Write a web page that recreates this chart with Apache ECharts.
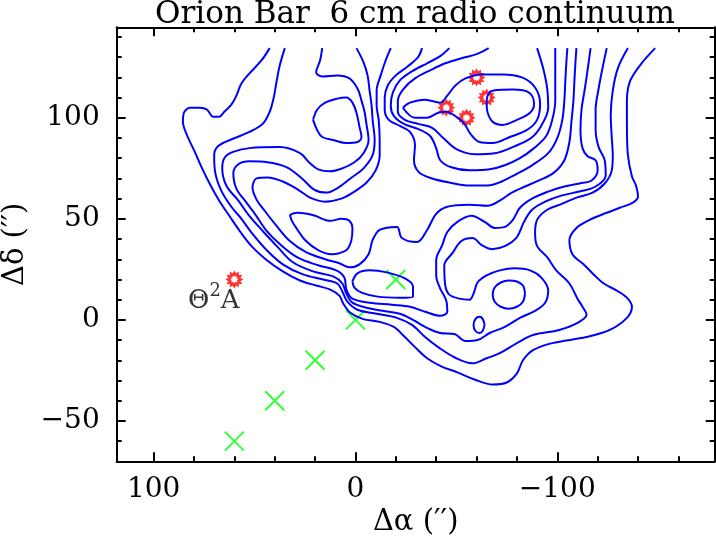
<!DOCTYPE html>
<html><head><meta charset="utf-8">
<script src="https://cdn.jsdelivr.net/npm/echarts@6/dist/echarts.min.js"></script>
<style>html,body{margin:0;padding:0;background:#fff}#c{width:716px;height:538px}</style>
</head><body><div id="c"></div>
<script>
// ---------- axis extents and tick values ----------
const X_MIN = -178, X_MAX = 118.3;
const Y_MIN = -70, Y_MAX = 144.8;
const xMajorTicks = [100, 0, -100];
const xMinorTicks = [-160, -140, -120, -80, -60, -40, -20, 20, 40, 60, 80];
const yMajorTicks = [-50, 0, 50, 100];
const yMinorTicks = [-60, -40, -30, -20, -10, 10, 20, 30, 40, 60, 70, 80, 90, 110, 120, 130, 140];

// ---------- contour lines (Δα, Δδ in arcsec) ----------
const contourC1 = [[42.5,134.5],[46.5,128.5],[52.5,122],[56.5,117],[59,111],[61.5,106.5],[65,103],[67.5,100.5],[70.5,100.5],[73.5,104],[77,105],[82,105],[85,102.5],[85.5,98],[83.5,91.5],[80,84],[76,75],[71.5,66],[67.5,59],[62.5,51.5],[57,43.5],[51.5,36.5],[44.5,30],[36,24],[27.5,19.5],[19.5,17],[12.5,15],[8,12],[6,8],[2.5,3.5],[-3.5,0.5],[-12,-1],[-19,-3.5],[-24.5,-8.5],[-29.5,-13.5],[-35.5,-19],[-42.5,-23],[-50.5,-26],[-59,-29.5],[-68,-32],[-75,-31],[-80,-26.5],[-83,-20],[-88,-15],[-97.5,-11.5],[-114.5,-8.5],[-126,-5],[-134.5,1],[-137,6.5],[-134.5,11],[-129.5,14.5],[-123,18],[-118,22.5],[-113,27.5],[-107.5,32.5],[-106,39.5],[-109.5,45.5],[-116,49.5],[-124.5,53],[-131,55.5],[-137.5,58],[-140,61],[-139,66.5],[-137,71],[-135,81.5],[-134.5,96.5],[-134.5,108.5],[-136,118],[-141,126],[-148.5,134.5]];
const contourC2 = [[35,134.5],[37.5,126],[39,118.5],[40.5,110],[42.5,103],[46,97],[52.5,93],[61,89.5],[68,86],[70,81.5],[69.5,73],[66.5,64],[61.5,56],[56.5,50],[51,42.5],[44,34.5],[36,27.5],[26,22.5],[16,20],[9,18],[6.5,14],[4,9],[-1,5],[-10.5,3],[-20.5,1],[-28,-2.5],[-34.5,-8.5],[-41,-13.5],[-49,-18.5],[-58,-21.5],[-65,-19],[-71.5,-16.5],[-80,-11.5],[-88,-7.5],[-101,-5],[-110,-1.5],[-114.5,2.5],[-112.5,6.5],[-110,10.5],[-106,18],[-99.5,24.5],[-95,31],[-90,36.5],[-89,43],[-90,49.5],[-95,54.5],[-102.5,57.5],[-109.5,60.5],[-117.5,63],[-123.5,67.5],[-127,74],[-127.5,81.5],[-127,90],[-126.5,101.5],[-127.5,113.5],[-130,124.5],[-135,134.5]];
const contourC3 = [[16.5,134.5],[17.5,128.5],[19.5,122.5],[16.5,120.5],[9,121],[3,119.5],[-1,114.5],[-3,108.5],[-4.5,103],[-5.5,96.5],[-6.5,89],[-4,82.5],[0.5,78],[6.5,75],[12.5,73.5],[18.5,74.5],[22.5,77.5],[27.5,82.5],[37.5,85.5],[52.5,85],[61,83],[65,80],[66,75],[64,66.5],[58,59],[53,52],[45.5,43.5],[38.5,36],[31,28.5],[21,24],[11,21.5],[6.5,18],[4.5,13],[1.5,8.5],[-5.5,6],[-13.5,4.5],[-22,3],[-28.5,0],[-34.5,-3.5],[-42,-6.5],[-49,-7],[-54.5,-10.5],[-60.5,-10],[-66.5,-6.5],[-74,-3.5],[-81.5,1],[-89,4.5],[-94,8.5],[-95.5,14.5],[-92,21],[-86.5,24.5],[-79,25.5],[-71.5,24.5],[-65,22],[-60.5,18.5],[-58.5,13],[-56.5,10],[-51.5,10.5],[-46.5,12.5],[-44.5,17],[-44,27],[-48,33],[-52.5,39],[-58,40.5],[-62.5,37],[-67.5,35],[-74,36.5],[-80,41],[-83.5,48.5],[-87.5,54.5],[-94,58.5],[-102,61.5],[-111,63.5],[-119,66],[-124,71.5],[-123.5,79],[-120.5,85.5],[-119,94],[-119,104],[-120.5,114.5],[-122.5,125],[-124.5,134.5]];
const contourC4 = [[-0.5,134.5],[-4,127.5],[-6,121],[-7,113.5],[-8,106],[-8.5,99],[-9.5,89],[-8.5,81.5],[-4,75],[2.5,70],[8.5,65.5],[14.5,63],[20.5,64.5],[26.5,70],[34,75.5],[43.5,78],[52.5,78.5],[58,77],[60.5,72.5],[59,65],[54,58],[49.5,52],[44,44],[37.5,37.5],[29,31],[18.5,27],[9.5,24.5],[5.5,21],[4.5,15],[1.5,10.5],[-7,8.5],[-18,7.5],[-27,6.5],[-34.5,4],[-42,2],[-45.5,4],[-45,9.5],[-42,15.5],[-40,22],[-40,29.5],[-43,37],[-45.5,43.5],[-50.5,48.5],[-57.5,51.5],[-64,48.5],[-69,45.5],[-74,46],[-78,49.5],[-81.5,55.5],[-87.5,60],[-95.5,63.5],[-103.5,66],[-111,67.5],[-117,69],[-120,74],[-119,79],[-115,81],[-112.5,85],[-111.5,94],[-112,104],[-113.5,113.5],[-115,123.5],[-116.5,134.5]];
const contourC5 = [[-17.5,134.5],[-15,128.5],[-12.5,121],[-10.5,113.5],[-10.5,106],[-11.5,99],[-12,89],[-12,81.5],[-10,74],[-5.5,68],[0.5,63.5],[7,60],[15,58.5],[22.5,60.5],[28.5,64.5],[36,68.5],[43.5,70.5],[49,70],[51,65.5],[49,59.5],[45,54],[39.5,47],[32.5,39],[24.5,33.5],[15,30],[8,28],[3,26],[-2,27.5],[-6.5,32.5],[-8.5,39.5],[-12,44.5],[-20.5,46],[-23,40.5],[-30.5,38.5],[-35.5,44.5],[-40,52.5],[-45.5,56],[-56.5,57],[-65.5,56.5],[-71.5,59],[-77.5,63],[-84,66],[-91,69],[-98.5,73],[-103.5,79],[-106,88],[-107,98],[-108,108.5],[-108.5,118.5],[-109,127.5],[-109.5,134.5]];
const contourS1 = [[-33,134.5],[-31,130],[-26,125.5],[-20,121],[-16,116],[-14.5,110],[-14.5,104],[-16.5,99],[-22,96],[-27,93],[-29.5,86.5],[-29,79],[-31.5,73],[-38,70],[-46.5,68],[-56.5,66.5],[-65.5,66.5],[-72.5,68.5],[-79.5,72],[-87.5,76.5],[-95.5,82.5],[-100,90],[-102.5,99],[-103.5,108.5],[-104,118.5],[-104.5,127.5],[-105,134.5]];
const contourS2 = [[-46.5,134.5],[-42,130.5],[-35.5,127],[-28,123],[-22,118.5],[-18.5,112.5],[-17.5,106],[-19,101],[-24,97],[-31,94.5],[-37,91],[-40,85],[-42,79],[-47.5,75.5],[-56.5,74],[-66.5,74.5],[-74,76.5],[-81.5,80],[-88.5,85],[-94.5,91],[-97.5,99],[-99,108.5],[-99,118.5],[-99,127.5],[-99,134.5]];
const contourS3 = [[-66,134.5],[-60,131.5],[-52.5,129.5],[-44.5,127],[-37,123.5],[-29.5,119.5],[-24,114.5],[-21,108.5],[-21,103],[-24.5,99],[-31,97],[-38,95],[-43.5,90],[-50,84.5],[-59,82],[-69,82.5],[-79,86],[-87,90],[-92,96],[-95.5,105],[-95,114.5],[-93,124.5],[-90,134.5]];
const loopFinger = [[-23.5,105],[-27,107.5],[-34.5,109],[-42,107.5],[-45.5,111],[-49.5,116],[-54.5,119.5],[-62.5,121.5],[-73,121.5],[-82.5,120],[-89,115],[-91.5,107],[-90,99],[-85,94],[-76.5,90.5],[-68,87.5],[-61.5,88],[-57,92],[-54,97],[-50,100.5],[-45,103],[-41,102.5],[-35.5,100],[-29.5,100],[-23.5,105]];
const loopStars = [[-65,107],[-65.5,111],[-68.5,113.5],[-78,114],[-86,112.5],[-88.5,107],[-86.5,102.5],[-80,99],[-73,96.5],[-68,98],[-65.5,102.5],[-65,107]];
const loopNorth = [[21,99],[19,104],[15,107.5],[9,109.5],[4.5,110],[1.5,107.5],[-0.5,102.5],[-2,95.5],[-3,90.5],[-1,88],[4.5,87.5],[11,89],[16.5,90.5],[19,94],[21,99]];
const loopBar = [[32.5,52],[29,53],[24,52.5],[20,51.5],[12.5,49],[7,50],[3,49],[1.5,45],[2,39.5],[4,35],[8,33],[12,32.5],[18.5,34.5],[25,39.5],[29,45],[31.5,49],[32.5,52]];
const loopCross = [[1.5,19],[-1,23],[-7,24.5],[-15.5,23.5],[-24.5,20.5],[-28.5,16.5],[-28.5,11.5],[-22,11],[-11,11.5],[-3,13.5],[0.5,16],[1.5,19]];
const loopRound = [[-84,13],[-83,17],[-80,19],[-76,19.5],[-72,18.5],[-69,16],[-68,12.5],[-69,9],[-72,6.5],[-76,5.5],[-80,6.5],[-83,9],[-84,13]];
const loopSmall = [[-64,-2.5],[-63,-5.5],[-61.5,-6.5],[-59.5,-5.5],[-58.5,-2.5],[-59.5,0.5],[-61.5,1.5],[-63,0.5],[-64,-2.5]];

// ---------- point markers ----------
const crossPositions = [[0,0],[-20,20],[20,-20],[40,-40],[60,-60]];
const starPositions = [[60,20],[-60,120],[-65,110],[-45,105],[-55,100]];

const contours = [contourC1, contourC2, contourC3, contourC4, contourC5, contourS1, contourS2, contourS3,
  loopFinger, loopStars, loopNorth, loopBar, loopCross, loopRound, loopSmall];

const FONT = 'DejaVu Serif';
const GRID = {left: 116.7, right: 1.3, top: 27.3, bottom: 76.7, containLabel: false, outerBoundsMode: 'none'};
function fmt(v) { return v < 0 ? '\u2212' + Math.abs(v) : String(v); }

function gearPath() {
  let s = 'path://';
  for (let i = 0; i < 24; i++) {
    const a = i * Math.PI / 12, r = (i % 2) ? 7 : 10;
    s += (i ? 'L' : 'M') + (10 + r * Math.cos(a)).toFixed(2) + ',' + (10 + r * Math.sin(a)).toFixed(2);
  }
  return s + 'Z';
}

function makeX(pos, grid, ticks, len, labels, line, name) {
  const ax = {
    type: 'value', gridIndex: grid, position: pos, min: X_MIN, max: X_MAX, inverse: true,
    axisLine: {show: line, onZero: false, lineStyle: {color: '#000', width: 2}},
    axisTick: {show: true, inside: true, length: len, customValues: ticks, lineStyle: {color: '#000', width: 2}},
    axisLabel: labels ? {show: true, customValues: labels, formatter: fmt, fontFamily: FONT, fontSize: 28, color: '#000', margin: 14} : {show: false},
    splitLine: {show: false}
  };
  if (name) Object.assign(ax, {name: name, nameLocation: 'middle', nameGap: 43, nameTextStyle: {fontFamily: FONT, fontSize: 29, color: '#000'}});
  return ax;
}
function makeY(pos, grid, ticks, len, labels, line, name) {
  const ax = {
    type: 'value', gridIndex: grid, position: pos, min: Y_MIN, max: Y_MAX,
    axisLine: {show: line, onZero: false, lineStyle: {color: '#000', width: 2}},
    axisTick: {show: true, inside: true, length: len, customValues: ticks, lineStyle: {color: '#000', width: 2}},
    axisLabel: labels ? {show: true, customValues: labels, formatter: fmt, fontFamily: FONT, fontSize: 28, color: '#000', margin: 17} : {show: false},
    splitLine: {show: false}
  };
  if (name) Object.assign(ax, {name: name, nameLocation: 'middle', nameGap: 84, nameRotate: 90, nameTextStyle: {fontFamily: FONT, fontSize: 29, color: '#000'}});
  return ax;
}

const series = contours.map(c => ({
  type: 'line', xAxisIndex: 0, yAxisIndex: 0, data: c, showSymbol: false, symbol: 'none',
  smooth: 0.35, lineStyle: {color: '#0000ff', width: 2}, silent: true, clip: true
}));
series.push({
  type: 'scatter', xAxisIndex: 0, yAxisIndex: 0, data: crossPositions,
  symbol: 'path://M0,0L20,20M20,0L0,20', symbolSize: 19,
  itemStyle: {color: 'rgba(0,0,0,0)', borderColor: '#00ff00', borderWidth: 2}, silent: true
});
series.push({
  type: 'scatter', xAxisIndex: 0, yAxisIndex: 0, symbol: gearPath(), symbolSize: 13,
  itemStyle: {color: '#ffffff', borderColor: '#ff0000', borderWidth: 2.5}, silent: true,
  data: starPositions.map((p, i) => i === 0 ? {
    value: p,
    label: {
      show: true, position: [13, 11], align: 'right', verticalAlign: 'top',
      formatter: '{a|\u0398}{s|2}{a|A}',
      rich: {
        a: {fontFamily: FONT, fontSize: 26, color: '#000', lineHeight: 32, verticalAlign: 'bottom'},
        s: {fontFamily: FONT, fontSize: 18, color: '#000', lineHeight: 32, verticalAlign: 'top'}
      }
    }
  } : p)
});

const chart = echarts.init(document.getElementById('c'), null, {renderer: 'canvas'});
chart.setOption({
  animation: false,
  backgroundColor: '#fff',
  title: {text: 'Orion Bar  6 cm radio continuum', left: 410, top: -6, textAlign: 'center',
    textStyle: {fontFamily: FONT, fontSize: 31, fontWeight: 'normal', color: '#000'}},
  grid: [Object.assign({}, GRID), Object.assign({}, GRID)],
  xAxis: [
    makeX('bottom', 0, xMinorTicks, 5, xMajorTicks, true, '\u0394\u03b1 (\u2032\u2032)'),
    makeX('top', 0, xMinorTicks, 5, null, true),
    makeX('bottom', 1, xMajorTicks, 9, null, false),
    makeX('top', 1, xMajorTicks, 9, null, false)
  ],
  yAxis: [
    makeY('left', 0, yMinorTicks, 5, yMajorTicks, true, '\u0394\u03b4 (\u2032\u2032)'),
    makeY('right', 0, yMinorTicks, 5, null, true),
    makeY('left', 1, yMajorTicks, 9, null, false),
    makeY('right', 1, yMajorTicks, 9, null, false)
  ],
  series: series
});
</script></body></html>
